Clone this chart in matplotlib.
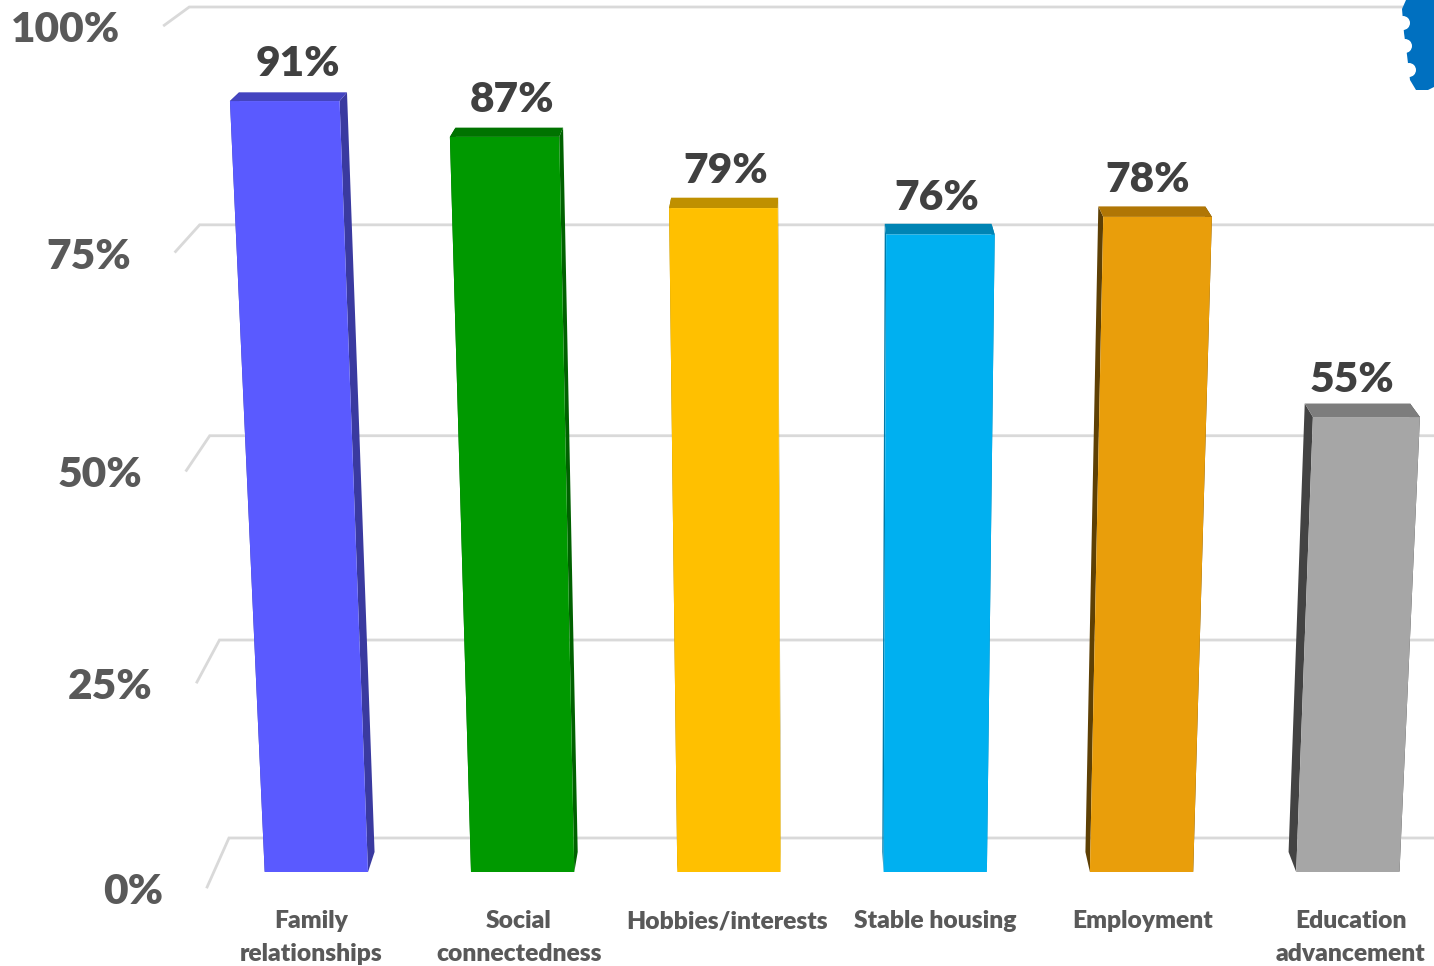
from matplotlib import pyplot as plt
from matplotlib.patches import Polygon, Circle

# chart data
categories = ["Family\nrelationships", "Social\nconnectedness", "Hobbies/interests",
              "Stable housing", "Employment", "Education\nadvancement"]
percents = [91, 87, 79, 76, 78, 55]
grid_ticks = [0, 25, 50, 75, 100]

front_colours = ["#5A5AFF", "#009900", "#FFC000", "#00B0F0", "#E99E0B", "#A6A6A6"]
top_colours = ["#4444C0", "#007300", "#BF9000", "#0084B4", "#B07605", "#7D7D7D"]
side_colours = ["#3A3AA0", "#006100", "#A08000", "#007AA8", "#5E4004", "#434343"]

# perspective camera, fitted in pixel space
C_T = -0.0633   # how much the view grows with height
C_Z = 0.02667   # and shrinks with depth
BASE_Y = 872
VERT_VANISH = (833, 13485)
DEPTH_VANISH = (797, -437)

BAR_BACK = 0.582     # bar depth
WALL = 1.0           # back wall depth
FLOOR_FRONT = -0.425  # front edge of the floor
WALL_LEFT = 213.8


def project(u, t, z):
    # u = pixel x on the floor line, t = value / 100, z = depth
    w = 1 + C_T * t + C_Z * z
    x = (u + VERT_VANISH[0] * C_T * t + DEPTH_VANISH[0] * C_Z * z) / w
    y = (BASE_Y + VERT_VANISH[1] * C_T * t + DEPTH_VANISH[1] * C_Z * z) / w
    return x, y


plt.rcParams['font.family'] = ['Lato', 'DejaVu Sans']
plt.rcParams['font.weight'] = 'heavy'

fig = plt.figure(figsize=(14.34, 9.66), dpi=100)
ax = fig.add_axes([0, 0, 1, 1])
ax.set_xlim(0, 1434)
ax.set_ylim(966, 0)
ax.axis("off")

# grid lines along the back wall, with the stub running forward on the left
for tick in grid_ticks:
    t = tick / 100
    corner = project(WALL_LEFT, t, WALL)
    stub = project(WALL_LEFT, t, FLOOR_FRONT)
    right = project(1700, t, WALL)
    ax.plot([stub[0], corner[0], right[0]], [stub[1], corner[1], right[1]],
            color="#D9D9D9", lw=2, solid_joinstyle="miter", zorder=1)
    ax.annotate("{}%".format(tick), xy=stub, xytext=(-44, -5), textcoords="offset pixels",
                ha="right", va="center", fontsize=30.5, color="#595959")

# the bars: top and side faces first, the front goes over them
bar_width = 103.3
for i, pct in enumerate(percents):
    t = pct / 100
    left = 264.7 + 206.3 * i
    right = left + bar_width

    front = [project(left, 0, 0), project(right, 0, 0), project(right, t, 0), project(left, t, 0)]
    top = [project(left, t, 0), project(right, t, 0), project(right, t, BAR_BACK), project(left, t, BAR_BACK)]
    side_r = [project(right, 0, 0), project(right, t, 0), project(right, t, BAR_BACK), project(right, 0, BAR_BACK)]
    side_l = [project(left, 0, 0), project(left, t, 0), project(left, t, BAR_BACK), project(left, 0, BAR_BACK)]

    ax.add_patch(Polygon(side_l, closed=True, fc=side_colours[i], ec="none", zorder=2))
    ax.add_patch(Polygon(side_r, closed=True, fc=side_colours[i], ec="none", zorder=2))
    ax.add_patch(Polygon(top, closed=True, fc=top_colours[i], ec="none", zorder=3))
    ax.add_patch(Polygon(front, closed=True, fc=front_colours[i], ec="none", zorder=4))

    # value label floats above the bar, in the plane of the wall
    lx, ly = project(left + bar_width / 2, t * 1.0236 + 0.0035, WALL)
    ax.text(lx, ly, "{}%".format(pct), ha="center", va="center", fontsize=30.5,
            color="#404040", zorder=5)

    ax.text(311 + 208 * i, 910, categories[i], ha="center", va="top",
            fontsize=17.7, color="#595959", linespacing=1.6)

# scalloped blue corner, top right
edge = [(1406, 0), (1402, 9), (1404, 33), (1407, 55), (1410, 80), (1416, 90), (1428, 90), (1434, 87), (1434, 0)]
ax.add_patch(Polygon(edge, closed=True, fc="#0070C0", ec="none", zorder=6))
for cx, cy in [(1403, 23), (1405, 46), (1409, 70)]:
    ax.add_patch(Circle((cx, cy), 7, fc="white", ec="none", zorder=7))

fig.savefig("out.png", dpi=100)
